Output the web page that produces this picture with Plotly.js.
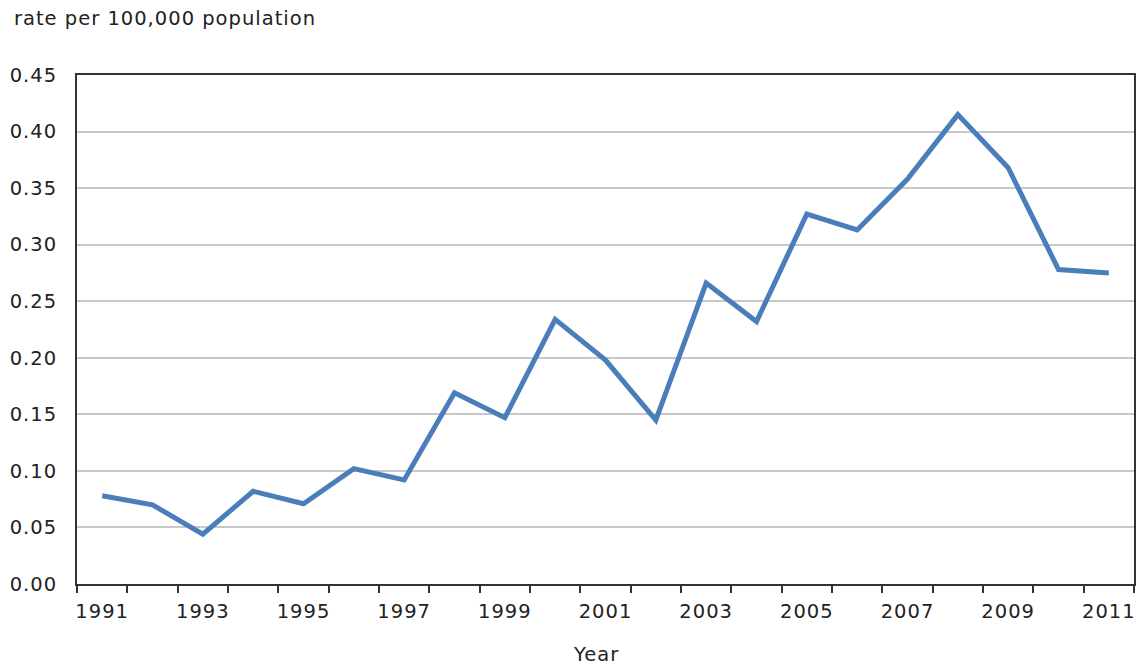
<!DOCTYPE html>
<html>
<head>
<meta charset="utf-8">
<script src="https://cdn.plot.ly/plotly-3.0.1.min.js"></script>
<style>
html,body{margin:0;padding:0;background:#fff;}
#chart{width:1137px;height:668px;}
svg text{letter-spacing:1px;}
</style>
</head>
<body>
<div id="chart"></div>
<script>
const years = [1991,1992,1993,1994,1995,1996,1997,1998,1999,2000,2001,2002,2003,2004,2005,2006,2007,2008,2009,2010,2011];
const rates = [0.078,0.070,0.044,0.082,0.071,0.102,0.092,0.169,0.147,0.234,0.198,0.145,0.266,0.232,0.327,0.313,0.358,0.415,0.368,0.278,0.275];
const labelYears = [1991,1993,1995,1997,1999,2001,2003,2005,2007,2009,2011];
const yTicks = [0,0.05,0.10,0.15,0.20,0.25,0.30,0.35,0.40,0.45];

const font = {family: 'DejaVu Sans, Verdana, sans-serif', size: 19.5, color: '#222'};

Plotly.newPlot('chart', [{
  x: years, y: rates, type: 'scatter', mode: 'lines',
  line: {color: '#4a7ebb', width: 5},
  hoverinfo: 'x+y'
}], {
  width: 1137, height: 668,
  margin: {l: 77, r: 3, t: 75, b: 84},
  paper_bgcolor: '#fff', plot_bgcolor: '#fff',
  font: font,
  showlegend: false,
  xaxis: {
    range: [1990.5, 2011.5],
    tickmode: 'array', tickvals: labelYears, ticktext: labelYears.map(String),
    ticks: '', showgrid: false, zeroline: false,
    showline: true, linecolor: '#333', linewidth: 2, mirror: true,
    minor: {ticks: 'outside', tick0: 1990.5, dtick: 1, ticklen: 7, tickcolor: '#333', tickwidth: 2, showgrid: false},
    tickfont: font, ticklabelstandoff: 9
  },
  yaxis: {
    range: [0, 0.45],
    tickmode: 'array', tickvals: yTicks, ticktext: yTicks.map(v => v.toFixed(2)),
    ticks: '', showgrid: true, gridcolor: '#c8c8c8', gridwidth: 1.5, zeroline: false,
    showline: true, linecolor: '#333', linewidth: 2, mirror: true,
    tickfont: font, ticklabelstandoff: 14
  },
  annotations: [{
    text: 'rate per 100,000 population', xref: 'paper', yref: 'paper',
    x: -65/1057, y: 1 + 57/509, xanchor: 'left', yanchor: 'middle',
    showarrow: false, font: font
  }, {
    text: 'Year', xref: 'paper', yref: 'paper',
    x: (596 - 77)/1057, y: -(654 - 584)/509, xanchor: 'center', yanchor: 'middle',
    showarrow: false, font: font
  }]
}, {displayModeBar: false});
</script>
</body>
</html>
